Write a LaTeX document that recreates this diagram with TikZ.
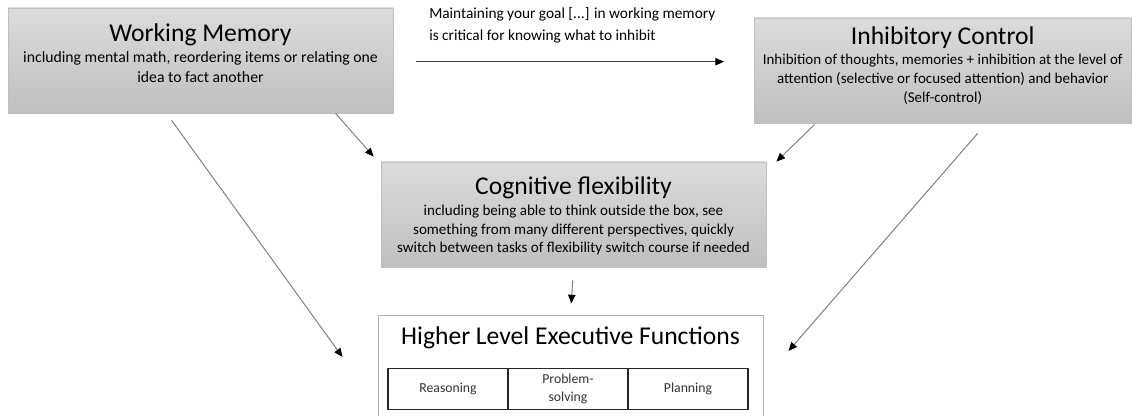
\documentclass[tikz,border=0pt]{standalone}
\usepackage{fontspec}
\setmainfont{Carlito}
\usetikzlibrary{arrows.meta,calc}

\begin{document}
\begin{tikzpicture}[x=0.75pt,y=-0.75pt,
  shadedbox/.style={draw=black!25, line width=0.6pt, top color=black!14, bottom color=black!25,
    minimum width=288.75pt, minimum height=78.75pt, inner sep=0pt},
  plainbox/.style={draw=black!30, line width=0.75pt, fill=white,
    minimum width=288.75pt, minimum height=81pt, inner sep=0pt},
  cell/.style={draw=black!85, line width=0.8pt, minimum width=90pt, minimum height=30.75pt,
    inner sep=0pt, align=center, font=\fontsize{10.3}{13.5}\selectfont, text=black!80},
  boxtitle/.style={anchor=base, inner sep=0pt, font=\fontsize{19.2}{23}\selectfont},
  boxbody/.style={anchor=base, inner sep=0pt, align=center},
  link/.style={draw=black!50, line width=0.75pt, -{Triangle[length=6.5pt,width=5.5pt,black]}},
]
\useasboundingbox (0,0) rectangle (1132,416);
\clip (0,0) rectangle (1132,416);

% main boxes
\node[shadedbox] (wm) at (200.5,60.5) {};
\node[shadedbox, minimum width=283pt] (ic) at (942.7,70.5) {};
\node[shadedbox] (cf) at (573.5,214.5) {};
\node[plainbox] (hl) at (570.5,370) {};

% working memory (multi-line bodies are placed by their last baseline)
\node[boxtitle] (wmt) at (200.5,41.7) {Working Memory};
\node[boxbody, font=\fontsize{11.8}{14.8}\selectfont] (wmb) at (200.5,82.7)
  {including mental math, reordering items or relating one\\idea to fact another};

% inhibitory control
\node[boxtitle] (ict) at (942.7,44.5) {Inhibitory Control};
\node[boxbody, font=\fontsize{11.25}{14.25}\selectfont] (icb) at (942.7,103)
  {Inhibition of thoughts, memories + inhibition at the level of\\attention (selective or focused attention) and behavior\\(Self-control)};

% cognitive flexibility
\node[boxtitle] (cft) at (573.5,195) {Cognitive flexibility};
\node[boxbody, font=\fontsize{11.3}{13.9}\selectfont] (cfb) at (573.5,253)
  {including being able to think outside the box, see\\something from many different perspectives, quickly\\switch between tasks of flexibility switch course if needed};

% higher level executive functions
\node[boxtitle] (hlt) at (570.5,345) {Higher Level Executive Functions};
\node[cell] (c1) at (448,388.75) {Reasoning};
\node[cell] (c2) at (568,388.75) {Problem-\\solving};
\node[cell] (c3) at (688,388.75) {Planning};

% arrow label
\coordinate (ms) at (416,61.7);
\coordinate (me) at (724,61.7);
\node[anchor=base west, inner sep=0pt, align=left, font=\fontsize{11.5}{16.5}\selectfont] (lbl) at (429,40.7)
  {Maintaining your goal [...] in working memory\\is critical for knowing what to inhibit};

% connectors
\draw[link, draw=black!75] (ms) -- (me);
\draw[link, shorten <=9.75pt, shorten >=9pt] (cf.south) -- (hl.north);
\draw[link] ($(wm.south west)+(164,7)$) -- ($(hl.west)+(-35,-13)$);
\draw[link] ($(wm.south west)+(328,0)$) -- ($(cf.north west)+(-7,-5)$);
\draw[link] ($(ic.south west)+(61,1)$) -- ($(cf.north east)+(10,0)$);
\draw[link] ($(ic.south west)+(224,10)$) -- ($(hl.east)+(25,-19)$);
\end{tikzpicture}
\end{document}
